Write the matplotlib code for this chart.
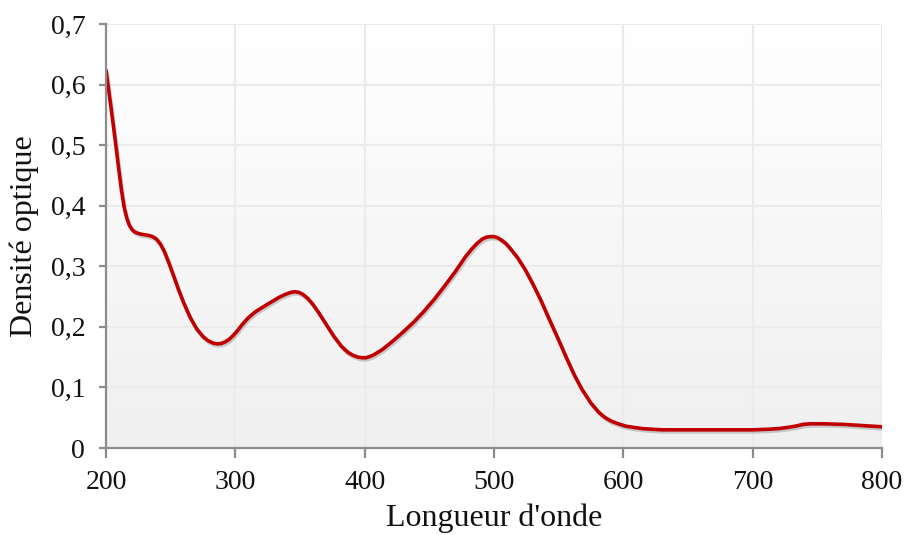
import numpy as np
import matplotlib
matplotlib.use("Agg")
import matplotlib.pyplot as plt
import matplotlib.patheffects as pe
from matplotlib.ticker import FuncFormatter

wavelength = [200, 202, 204, 206, 208, 210, 212, 214, 216, 218, 220, 222, 224, 227, 230,
              233, 236, 239, 242, 245, 248, 252, 256, 260, 265, 270, 275, 279, 283, 286,
              289, 292, 295, 298, 301, 305, 310, 315, 320, 327, 334, 339, 343, 346, 349, 352,
              356, 360, 364, 370, 376, 382, 387, 391, 395, 398, 401, 404, 408, 414,
              422, 430, 438, 446, 454, 462, 470, 478, 483, 487, 491, 494, 497, 500, 503,
              506, 509, 512, 518, 524, 530, 536, 542, 549, 556, 562, 568, 575, 581, 586,
              591, 596, 602, 608, 615, 622, 630, 640, 660, 680, 700, 712, 720, 727, 733,
              739, 745, 755, 770, 785, 800]
density = [0.624, 0.592, 0.560, 0.527, 0.493, 0.458, 0.425, 0.398, 0.380, 0.368, 0.361,
           0.357, 0.355, 0.353, 0.352, 0.351, 0.349, 0.345, 0.337, 0.325, 0.309, 0.286,
           0.262, 0.240, 0.216, 0.197, 0.184, 0.177, 0.173, 0.172, 0.1725, 0.175, 0.179,
           0.185, 0.192, 0.203, 0.215, 0.224, 0.231, 0.240, 0.249, 0.254, 0.257, 0.258,
           0.257, 0.254, 0.247, 0.237, 0.225, 0.205, 0.185, 0.168, 0.158, 0.153, 0.150,
           0.149, 0.149, 0.151, 0.155, 0.163, 0.177, 0.192, 0.208, 0.226, 0.246, 0.268,
           0.291, 0.316, 0.329, 0.338, 0.345, 0.348, 0.349, 0.349, 0.347, 0.343, 0.338,
           0.331, 0.315, 0.295, 0.271, 0.245, 0.216, 0.183, 0.149, 0.121, 0.097, 0.074,
           0.059, 0.050, 0.044, 0.040, 0.036, 0.034, 0.032, 0.031, 0.030, 0.030, 0.030,
           0.030, 0.030, 0.031, 0.032, 0.034, 0.036, 0.039, 0.040, 0.040, 0.039, 0.037,
           0.035]

x_ticks = [200, 300, 400, 500, 600, 700, 800]
y_ticks = [0, 0.1, 0.2, 0.3, 0.4, 0.5, 0.6, 0.7]

plt.rcParams['font.family'] = ['Liberation Serif', 'DejaVu Serif']

fig = plt.figure(figsize=(9.08, 5.35), dpi=100)
ax = fig.add_axes([106/908, (535-448)/535, (882-106)/908, (448-24)/535])

# background gradient: white at top, light gray at bottom
frac = np.linspace(0.0, 1.0, 256).reshape(-1, 1, 1)  # 0 bottom -> 1 top
top = np.array([1.0, 1.0, 1.0])
bot = np.array([0.94, 0.94, 0.94])
img = bot + (top - bot) * frac
img = np.repeat(img, 2, axis=1)
ax.imshow(img, extent=[200, 800, 0, 0.7], aspect='auto', origin='lower', zorder=0)

ax.set_xlim(200, 800)
ax.set_ylim(0, 0.7)
ax.set_xticks(x_ticks)
ax.set_yticks(y_ticks)
ax.yaxis.set_major_formatter(FuncFormatter(lambda v, p: "0" if v == 0 else f"{v:.1f}".replace('.', ',')))
ax.grid(True, color='#ebebeb', linewidth=1.5, zorder=1)
ax.set_axisbelow(False)

ax.plot(wavelength, density, color='#c00000', linewidth=2.6, zorder=3,
        solid_capstyle='round', solid_joinstyle='round',
        path_effects=[pe.SimpleLineShadow(offset=(0.8, -1.5), shadow_color='#777777', alpha=0.35),
                      pe.Normal()])

for s in ['top', 'right']:
    ax.spines[s].set_visible(False)
for s in ['left', 'bottom']:
    ax.spines[s].set_color('#8c8c8c')
    ax.spines[s].set_linewidth(1.6)
    ax.spines[s].set_zorder(4)
ax.tick_params(axis='both', colors='#8c8c8c', width=1.6, labelcolor='#111111', labelsize=20)
ax.tick_params(axis='y', length=5, pad=10)
ax.tick_params(axis='x', length=7, pad=9)

ax.set_xlabel("Longueur d'onde", fontsize=23, color='#111111', labelpad=6)
ax.set_ylabel("Densité optique", fontsize=23, color='#111111', labelpad=8)

fig.savefig("out.png", dpi=100)
